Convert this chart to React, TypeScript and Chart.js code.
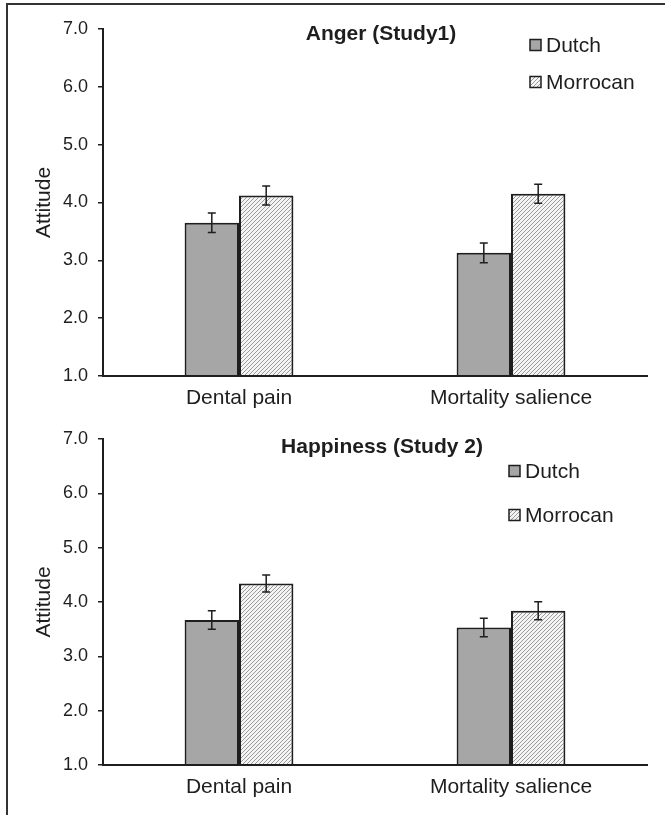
import React, { useEffect, useRef } from "react";
import { Chart, registerables } from "chart.js";

Chart.register(...registerables);

// ---- data ----
const categories = ["Dental pain", "Mortality salience"];
const seriesNames = ["Dutch", "Morrocan"];
const yTickValues = [1, 2, 3, 4, 5, 6, 7];
const yAxisTitle = "Attitude";

const angerTitle = "Anger (Study1)";
const angerDutch = [3.65, 3.13];
const angerMorrocan = [4.12, 4.15];
const angerDutchErr = [0.17, 0.17];
const angerMorrocanErr = [0.165, 0.165];

const happyTitle = "Happiness (Study 2)";
const happyDutch = [3.67, 3.53];
const happyMorrocan = [4.34, 3.84];
const happyDutchErr = [0.17, 0.17];
const happyMorrocanErr = [0.155, 0.165];

const FONT = "'Liberation Sans', Arial, sans-serif";
const DUTCH_COLOR = "#a6a6a6";
const INK = "#1e1e1e";

function makeHatch(): CanvasPattern | string {
  const n = 4;
  const c = document.createElement("canvas");
  c.width = n;
  c.height = n;
  const g = c.getContext("2d");
  if (!g) return "#ddd";
  g.fillStyle = "#f4f4f4";
  g.fillRect(0, 0, n, n);
  g.strokeStyle = "#9a9a9a";
  g.lineWidth = 1;
  g.beginPath();
  g.moveTo(0, n);
  g.lineTo(n, 0);
  g.moveTo(-1, 1);
  g.lineTo(1, -1);
  g.moveTo(n - 1, n + 1);
  g.lineTo(n + 1, n - 1);
  g.stroke();
  const p = g.createPattern(c, "repeat");
  return p || "#ddd";
}

const overlayPlugin = {
  id: "overlay",
  afterDatasetsDraw(chart: any) {
    const ctx = chart.ctx;
    const ys = chart.scales.y;
    chart.data.datasets.forEach((ds: any, di: number) => {
      const meta = chart.getDatasetMeta(di);
      meta.data.forEach((bar: any, i: number) => {
        const v = ds.data[i];
        const e = ds.errors[i];
        const yt = ys.getPixelForValue(v + e);
        const yb = ys.getPixelForValue(v - e);
        ctx.save();
        ctx.strokeStyle = INK;
        ctx.lineWidth = 1.5;
        ctx.beginPath();
        ctx.moveTo(bar.x, yt);
        ctx.lineTo(bar.x, yb);
        ctx.moveTo(bar.x - 4, yt);
        ctx.lineTo(bar.x + 4, yt);
        ctx.moveTo(bar.x - 4, yb);
        ctx.lineTo(bar.x + 4, yb);
        ctx.stroke();
        ctx.restore();
      });
    });
  },
  afterDraw(chart: any, _args: any, opts: any) {
    const ctx = chart.ctx;
    ctx.save();
    // title
    ctx.fillStyle = INK;
    ctx.font = `bold 21px ${FONT}`;
    ctx.textAlign = "center";
    ctx.textBaseline = "middle";
    ctx.fillText(opts.title, opts.titleX, opts.titleY);
    // legend
    ctx.font = `21px ${FONT}`;
    ctx.textAlign = "left";
    chart.data.datasets.forEach((ds: any, i: number) => {
      const cy = opts.legendY[i];
      const sx = opts.legendX;
      const s = 11;
      ctx.fillStyle = ds.backgroundColor;
      ctx.fillRect(sx, cy - s / 2, s, s);
      ctx.strokeStyle = INK;
      ctx.lineWidth = 1.5;
      ctx.strokeRect(sx, cy - s / 2, s, s);
      ctx.fillStyle = INK;
      ctx.fillText(ds.label, sx + s + 5, cy + 1);
    });
    ctx.restore();
  },
};

type PanelProps = {
  top: number;
  height: number;
  areaTop: number;
  areaBottom: number;
  title: string;
  titleX: number;
  titleY: number;
  legendX: number;
  legendY: number[];
  dutch: number[];
  morrocan: number[];
  dutchErr: number[];
  morrocanErr: number[];
};

const W = 665;
const AREA_LEFT = 103;
const AREA_RIGHT = 647;
const PAD_LEFT = 32;

function Panel(p: PanelProps) {
  const ref = useRef<HTMLCanvasElement>(null);
  useEffect(() => {
    if (!ref.current) return;
    const hatch = makeHatch();
    const chart = new Chart(ref.current, {
      type: "bar",
      data: {
        labels: categories,
        datasets: [
          {
            label: seriesNames[0],
            data: p.dutch,
            errors: p.dutchErr,
            backgroundColor: DUTCH_COLOR,
            borderColor: INK,
            borderWidth: 2,
            categoryPercentage: 0.4,
            barPercentage: 1.0,
          } as any,
          {
            label: seriesNames[1],
            data: p.morrocan,
            errors: p.morrocanErr,
            backgroundColor: hatch,
            borderColor: INK,
            borderWidth: 2,
            categoryPercentage: 0.4,
            barPercentage: 1.0,
          } as any,
        ],
      },
      options: {
        responsive: false,
        animation: false,
        devicePixelRatio: 1,
        layout: {
          padding: {
            left: PAD_LEFT,
            right: W - AREA_RIGHT,
            top: p.areaTop,
            bottom: 0,
          },
        },
        plugins: {
          legend: { display: false },
          title: { display: false },
          tooltip: { enabled: false },
          overlay: {
            title: p.title,
            titleX: p.titleX,
            titleY: p.titleY,
            legendX: p.legendX,
            legendY: p.legendY,
          },
        } as any,
        scales: {
          x: {
            grid: { display: false, drawTicks: false },
            border: { display: true, color: INK, width: 2, z: 1 },
            ticks: {
              font: { family: FONT, size: 21 },
              color: INK,
              padding: 10,
              maxRotation: 0,
            },
            afterFit: (s: any) => {
              s.height = p.height - p.areaBottom;
            },
          },
          y: {
            min: yTickValues[0],
            max: yTickValues[yTickValues.length - 1],
            afterBuildTicks: (s: any) => {
              s.ticks = yTickValues.map((v) => ({ value: v }));
            },
            grid: {
              display: true,
              drawOnChartArea: false,
              drawTicks: true,
              tickLength: 5,
              color: INK,
              lineWidth: 1.5,
            },
            border: { display: true, color: INK, width: 2 },
            ticks: {
              font: { family: FONT, size: 18 },
              color: INK,
              padding: 10,
              callback: (v: any) => Number(v).toFixed(1),
            },
            title: {
              display: true,
              text: yAxisTitle,
              font: { family: FONT, size: 21 },
              color: INK,
              padding: { top: 0, bottom: 0 },
            },
            afterFit: (s: any) => {
              s.width = AREA_LEFT - PAD_LEFT;
            },
          },
        },
      } as any,
      plugins: [overlayPlugin],
    });
    return () => chart.destroy();
  }, []);
  return (
    <canvas
      ref={ref}
      width={W}
      height={p.height}
      style={{ position: "absolute", left: 0, top: p.top, width: W, height: p.height }}
    />
  );
}

export default function App() {
  return (
    <div
      style={{
        position: "absolute",
        left: 0,
        top: 0,
        width: 665,
        height: 815,
        overflow: "hidden",
        background: "#ffffff",
      }}
    >
      <Panel
        top={0}
        height={415}
        areaTop={29}
        areaBottom={376}
        title={angerTitle}
        titleX={381}
        titleY={34}
        legendX={530}
        legendY={[45, 82]}
        dutch={angerDutch}
        morrocan={angerMorrocan}
        dutchErr={angerDutchErr}
        morrocanErr={angerMorrocanErr}
      />
      <Panel
        top={415}
        height={400}
        areaTop={24}
        areaBottom={350}
        title={happyTitle}
        titleX={382}
        titleY={32}
        legendX={509}
        legendY={[56, 100]}
        dutch={happyDutch}
        morrocan={happyMorrocan}
        dutchErr={happyDutchErr}
        morrocanErr={happyMorrocanErr}
      />
      <div
        style={{
          position: "absolute",
          left: 6,
          top: 3,
          width: 700,
          height: 900,
          borderTop: "2px solid #333",
          borderLeft: "2px solid #333",
          pointerEvents: "none",
        }}
      />
    </div>
  );
}
